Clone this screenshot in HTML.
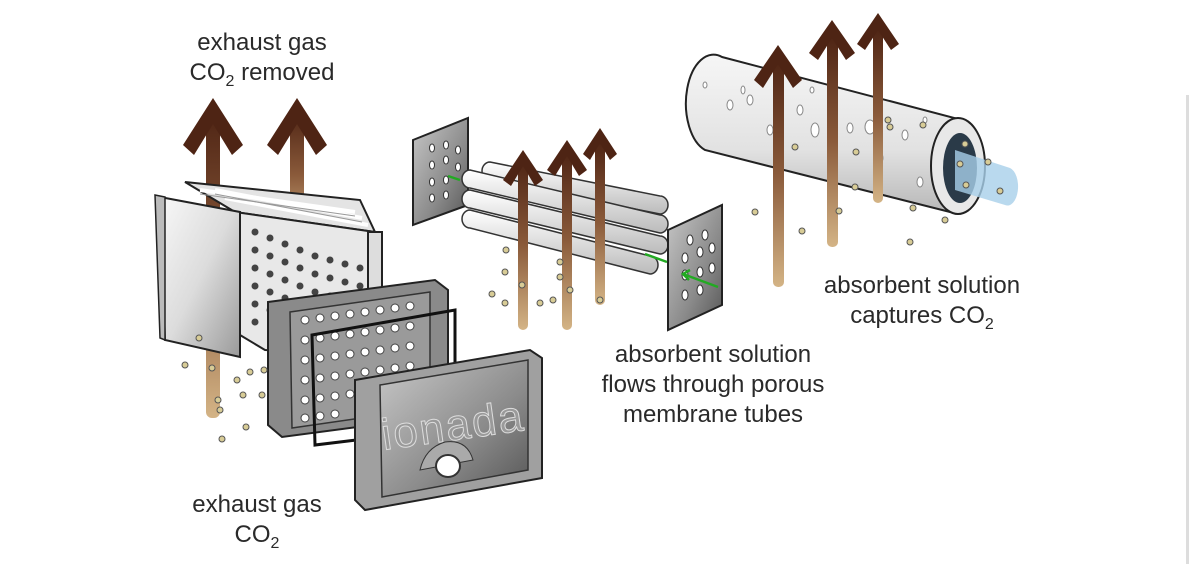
<!DOCTYPE html>
<html><head><meta charset="utf-8"><style>
html,body{margin:0;padding:0;background:#fff;width:1200px;height:564px;overflow:hidden}
svg{display:block}
text{font-family:"Liberation Sans",sans-serif;fill:#2a2a2a;font-size:24px}
</style></head><body>
<svg width="1200" height="564" viewBox="0 0 1200 564">
<defs>
<linearGradient id="ar" x1="0" y1="0" x2="0" y2="1">
<stop offset="0" stop-color="#4e2414"/><stop offset="0.5" stop-color="#8a5a3a"/><stop offset="1" stop-color="#d4b486"/></linearGradient>
<linearGradient id="metal" x1="0" y1="0" x2="1" y2="1">
<stop offset="0" stop-color="#f8f8f8"/><stop offset="0.5" stop-color="#dcdcdc"/><stop offset="1" stop-color="#9a9a9a"/></linearGradient>
<linearGradient id="plate" x1="0" y1="0" x2="1" y2="1">
<stop offset="0" stop-color="#c8c8c8"/><stop offset="0.6" stop-color="#8a8a8a"/><stop offset="1" stop-color="#555"/></linearGradient>
<linearGradient id="cyl" x1="0" y1="0" x2="0" y2="1">
<stop offset="0" stop-color="#f6f6f6"/><stop offset="0.6" stop-color="#e2e2e2"/><stop offset="1" stop-color="#b8b8b8"/></linearGradient>
<linearGradient id="tube" x1="0" y1="0" x2="0" y2="1">
<stop offset="0" stop-color="#fff"/><stop offset="1" stop-color="#bbb"/></linearGradient>
</defs>

<rect x="1186" y="95" width="3" height="469" fill="#ddd"/>

<text x="262" y="50" text-anchor="middle">exhaust gas</text>
<text x="262" y="80" text-anchor="middle">CO<tspan font-size="16" dy="6">2</tspan><tspan dy="-6"> removed</tspan></text>
<text x="257" y="512" text-anchor="middle">exhaust gas</text>
<text x="257" y="542" text-anchor="middle">CO<tspan font-size="16" dy="6">2</tspan></text>
<text x="713" y="362" text-anchor="middle">absorbent solution</text>
<text x="713" y="392" text-anchor="middle">flows through porous</text>
<text x="713" y="422" text-anchor="middle">membrane tubes</text>
<text x="922" y="293" text-anchor="middle">absorbent solution</text>
<text x="922" y="323" text-anchor="middle">captures CO<tspan font-size="16" dy="6">2</tspan></text>

<!-- left arrows -->
<rect x="206" y="110" width="14" height="308" rx="6" fill="url(#ar)"/>
<rect x="290" y="110" width="14" height="130" fill="url(#ar)"/>
<polygon points="213,98 243,145 232,155 213,124 194,155 183,145" fill="#4e2414"/>
<polygon points="297,98 327,145 316,155 297,124 278,155 267,145" fill="#4e2414"/>

<!-- heat exchanger box -->
<polygon points="185,182 360,200 375,232 235,212" fill="#e4e4e4" stroke="#222" stroke-width="2"/>
<g stroke="#fff" stroke-width="4">
<line x1="200" y1="190" x2="355" y2="212"/><line x1="215" y1="190" x2="362" y2="218"/>
<line x1="225" y1="198" x2="368" y2="225"/>
</g>
<g stroke="#999" stroke-width="1">
<line x1="200" y1="194" x2="355" y2="216"/><line x1="215" y1="194" x2="362" y2="222"/>
</g>
<polygon points="235,212 375,232 375,355 265,350 240,335" fill="#e8e8e8" stroke="#222" stroke-width="2"/>
<g fill="#444">
<circle cx="255" cy="232" r="3.5"/><circle cx="270" cy="238" r="3.5"/><circle cx="285" cy="244" r="3.5"/><circle cx="300" cy="250" r="3.5"/><circle cx="315" cy="256" r="3.5"/><circle cx="330" cy="260" r="3.5"/><circle cx="345" cy="264" r="3.5"/><circle cx="360" cy="268" r="3.5"/>
<circle cx="255" cy="250" r="3.5"/><circle cx="270" cy="256" r="3.5"/><circle cx="285" cy="262" r="3.5"/><circle cx="300" cy="268" r="3.5"/><circle cx="315" cy="274" r="3.5"/><circle cx="330" cy="278" r="3.5"/><circle cx="345" cy="282" r="3.5"/><circle cx="360" cy="286" r="3.5"/>
<circle cx="255" cy="268" r="3.5"/><circle cx="270" cy="274" r="3.5"/><circle cx="285" cy="280" r="3.5"/><circle cx="300" cy="286" r="3.5"/><circle cx="315" cy="292" r="3.5"/><circle cx="330" cy="296" r="3.5"/>
<circle cx="255" cy="286" r="3.5"/><circle cx="270" cy="292" r="3.5"/><circle cx="285" cy="298" r="3.5"/>
<circle cx="255" cy="304" r="3.5"/><circle cx="270" cy="310" r="3.5"/>
<circle cx="255" cy="322" r="3.5"/>
</g>
<polygon points="160,197 240,212 240,357 165,340" fill="url(#metal)" stroke="#222" stroke-width="2"/>
<polygon points="155,195 165,197 165,340 160,338" fill="#bbb" stroke="#222" stroke-width="1.5"/>
<rect x="368" y="232" width="14" height="125" fill="#ddd" stroke="#222" stroke-width="2"/>

<!-- mid plate -->
<polygon points="268,302 435,280 448,290 448,415 282,437 268,425" fill="#8a8a8a" stroke="#222" stroke-width="2"/>
<polygon points="290,312 430,292 430,408 292,428" fill="#9a9a9a" stroke="#333" stroke-width="1.5"/>
<g fill="#fff" stroke="#444" stroke-width="1">
<circle cx="305" cy="320" r="4"/><circle cx="320" cy="318" r="4"/><circle cx="335" cy="316" r="4"/><circle cx="350" cy="314" r="4"/><circle cx="365" cy="312" r="4"/><circle cx="380" cy="310" r="4"/><circle cx="395" cy="308" r="4"/><circle cx="410" cy="306" r="4"/>
<circle cx="305" cy="340" r="4"/><circle cx="320" cy="338" r="4"/><circle cx="335" cy="336" r="4"/><circle cx="350" cy="334" r="4"/><circle cx="365" cy="332" r="4"/><circle cx="380" cy="330" r="4"/><circle cx="395" cy="328" r="4"/><circle cx="410" cy="326" r="4"/>
<circle cx="305" cy="360" r="4"/><circle cx="320" cy="358" r="4"/><circle cx="335" cy="356" r="4"/><circle cx="350" cy="354" r="4"/><circle cx="365" cy="352" r="4"/><circle cx="380" cy="350" r="4"/><circle cx="395" cy="348" r="4"/><circle cx="410" cy="346" r="4"/>
<circle cx="305" cy="380" r="4"/><circle cx="320" cy="378" r="4"/><circle cx="335" cy="376" r="4"/><circle cx="350" cy="374" r="4"/><circle cx="365" cy="372" r="4"/><circle cx="380" cy="370" r="4"/><circle cx="395" cy="368" r="4"/><circle cx="410" cy="366" r="4"/>
<circle cx="305" cy="400" r="4"/><circle cx="320" cy="398" r="4"/><circle cx="335" cy="396" r="4"/><circle cx="350" cy="394" r="4"/><circle cx="365" cy="392" r="4"/><circle cx="380" cy="390" r="4"/>
<circle cx="305" cy="418" r="4"/><circle cx="320" cy="416" r="4"/><circle cx="335" cy="414" r="4"/>
</g>
<polygon points="312,335 455,310 455,428 315,445" fill="none" stroke="#111" stroke-width="3"/>

<!-- front plate -->
<polygon points="355,380 530,350 542,358 542,478 365,510 355,500" fill="#a0a0a0" stroke="#222" stroke-width="2"/>
<polygon points="380,385 528,360 528,470 382,497" fill="url(#plate)" stroke="#333" stroke-width="1.5"/>
<text x="455" y="440" text-anchor="middle" transform="rotate(-8 455 440)" style="font-size:44px;fill:#9a9a9a;stroke:#ddd;stroke-width:1;letter-spacing:2px">ionada</text>
<path d="M420,470 q5,-22 25,-28 q22,-3 28,18 z" fill="#aaa" stroke="#333"/>
<ellipse cx="448" cy="466" rx="12" ry="11" fill="#fff" stroke="#333" stroke-width="2"/>

<!-- middle section -->
<polygon points="413,140 468,118 468,205 413,225" fill="url(#plate)" stroke="#222" stroke-width="2"/>
<g fill="#fff" stroke="#333" stroke-width="1">
<ellipse cx="432" cy="148" rx="2.5" ry="4"/><ellipse cx="446" cy="145" rx="2.5" ry="4"/><ellipse cx="458" cy="150" rx="2.5" ry="4"/>
<ellipse cx="432" cy="165" rx="2.5" ry="4"/><ellipse cx="446" cy="160" rx="2.5" ry="4"/><ellipse cx="458" cy="167" rx="2.5" ry="4"/>
<ellipse cx="432" cy="182" rx="2.5" ry="4"/><ellipse cx="446" cy="180" rx="2.5" ry="4"/>
<ellipse cx="432" cy="198" rx="2.5" ry="4"/><ellipse cx="446" cy="195" rx="2.5" ry="4"/>
</g>
<g stroke="#333" stroke-width="1.5" fill="url(#tube)">
<path d="M490,162 L660,196 a8,9 0 0 1 0,18 L490,180 a8,9 0 0 1 0,-18z"/>
<path d="M470,170 L660,215 a8,9 0 0 1 0,18 L470,188 a8,9 0 0 1 0,-18z"/>
<path d="M470,190 L660,236 a8,9 0 0 1 0,18 L470,208 a8,9 0 0 1 0,-18z"/>
<path d="M470,210 L650,256 a8,9 0 0 1 0,18 L470,228 a8,9 0 0 1 0,-18z"/>
</g>
<rect x="518" y="160" width="10" height="170" rx="5" fill="url(#ar)"/>
<rect x="562" y="150" width="10" height="180" rx="5" fill="url(#ar)"/>
<rect x="595" y="140" width="10" height="165" rx="5" fill="url(#ar)"/>
<polygon points="523,150 543,180 535,186 523,166 511,186 503,180" fill="#4e2414"/>
<polygon points="567,140 587,170 579,176 567,156 555,176 547,170" fill="#4e2414"/>
<polygon points="600,128 617,154 610,160 600,143 590,160 583,154" fill="#4e2414"/>
<polygon points="668,230 722,205 722,305 668,330" fill="url(#plate)" stroke="#222" stroke-width="2"/>
<g fill="#fff" stroke="#333" stroke-width="1">
<ellipse cx="690" cy="240" rx="3" ry="5"/><ellipse cx="705" cy="235" rx="3" ry="5"/><ellipse cx="712" cy="248" rx="3" ry="5"/>
<ellipse cx="685" cy="258" rx="3" ry="5"/><ellipse cx="700" cy="252" rx="3" ry="5"/><ellipse cx="712" cy="268" rx="3" ry="5"/>
<ellipse cx="685" cy="275" rx="3" ry="5"/><ellipse cx="700" cy="272" rx="3" ry="5"/>
<ellipse cx="685" cy="295" rx="3" ry="5"/><ellipse cx="700" cy="290" rx="3" ry="5"/>
</g>
<line x1="718" y1="287" x2="683" y2="274" stroke="#2a2" stroke-width="2.5"/>
<polyline points="690,270 683,274 689,280" fill="none" stroke="#2a2" stroke-width="2.5"/>
<line x1="667" y1="262" x2="645" y2="254" stroke="#2a2" stroke-width="2.5"/>
<line x1="460" y1="180" x2="448" y2="176" stroke="#2a2" stroke-width="2.5"/>

<!-- right cylinder -->
<path d="M722,57 L962,120 A28,48 0 0 1 950,212 L705,150 A26,46 0 0 1 722,57 Z" fill="url(#cyl)" stroke="#222" stroke-width="2"/>
<ellipse cx="958" cy="166" rx="27" ry="48" fill="#e8e8e8" stroke="#222" stroke-width="2"/>
<ellipse cx="960" cy="168" rx="17" ry="35" fill="#2a3a48"/>
<path d="M955,150 L1010,168 A10,18 0 0 1 1005,205 L955,190 Z" fill="#a8d0ea" opacity="0.8"/>
<g fill="#fff" stroke="#888" stroke-width="1">
<ellipse cx="730" cy="105" rx="3" ry="5"/><ellipse cx="705" cy="85" rx="2" ry="3"/><ellipse cx="770" cy="130" rx="3" ry="5"/><ellipse cx="800" cy="110" rx="3" ry="5"/>
<ellipse cx="815" cy="130" rx="4" ry="7"/><ellipse cx="850" cy="128" rx="3" ry="5"/><ellipse cx="870" cy="127" rx="5" ry="7"/><ellipse cx="880" cy="158" rx="3" ry="5"/>
<ellipse cx="905" cy="135" rx="3" ry="5"/><ellipse cx="920" cy="182" rx="3" ry="5"/><ellipse cx="743" cy="90" rx="2" ry="4"/><ellipse cx="750" cy="100" rx="3" ry="5"/>
<ellipse cx="925" cy="120" rx="2" ry="3"/><ellipse cx="812" cy="90" rx="2" ry="3"/>
</g>
<rect x="773" y="60" width="11" height="227" rx="5" fill="url(#ar)"/>
<rect x="827" y="35" width="11" height="212" rx="5" fill="url(#ar)"/>
<rect x="873" y="28" width="10" height="175" rx="5" fill="url(#ar)"/>
<polygon points="778,45 802,80 793,88 778,64 763,88 754,80" fill="#4e2414"/>
<polygon points="832,20 855,53 846,60 832,38 818,60 809,53" fill="#4e2414"/>
<polygon points="878,13 899,44 891,50 878,30 865,50 857,44" fill="#4e2414"/>

<!-- particles -->
<g fill="#d8cc96" stroke="#555" stroke-width="1">
<circle cx="185" cy="365" r="3"/><circle cx="212" cy="368" r="3"/><circle cx="237" cy="380" r="3"/><circle cx="243" cy="395" r="3"/><circle cx="218" cy="400" r="3"/>
<circle cx="220" cy="410" r="3"/><circle cx="246" cy="427" r="3"/><circle cx="222" cy="439" r="3"/><circle cx="199" cy="338" r="3"/><circle cx="250" cy="372" r="3"/>
<circle cx="264" cy="370" r="3"/><circle cx="262" cy="395" r="3"/>
<circle cx="506" cy="250" r="3"/><circle cx="505" cy="272" r="3"/><circle cx="492" cy="294" r="3"/><circle cx="505" cy="303" r="3"/><circle cx="540" cy="303" r="3"/>
<circle cx="560" cy="277" r="3"/><circle cx="570" cy="290" r="3"/><circle cx="553" cy="300" r="3"/><circle cx="522" cy="285" r="3"/><circle cx="600" cy="300" r="3"/><circle cx="560" cy="262" r="3"/>
<circle cx="755" cy="212" r="3"/><circle cx="802" cy="231" r="3"/><circle cx="839" cy="211" r="3"/><circle cx="910" cy="242" r="3"/><circle cx="913" cy="208" r="3"/>
<circle cx="856" cy="152" r="3"/><circle cx="855" cy="187" r="3"/><circle cx="890" cy="127" r="3"/><circle cx="923" cy="125" r="3"/>
<circle cx="965" cy="144" r="3"/><circle cx="960" cy="164" r="3"/><circle cx="966" cy="185" r="3"/><circle cx="988" cy="162" r="3"/><circle cx="1000" cy="191" r="3"/>
<circle cx="888" cy="120" r="3"/><circle cx="945" cy="220" r="3"/><circle cx="795" cy="147" r="3"/>
</g>
</svg>
</body></html>
